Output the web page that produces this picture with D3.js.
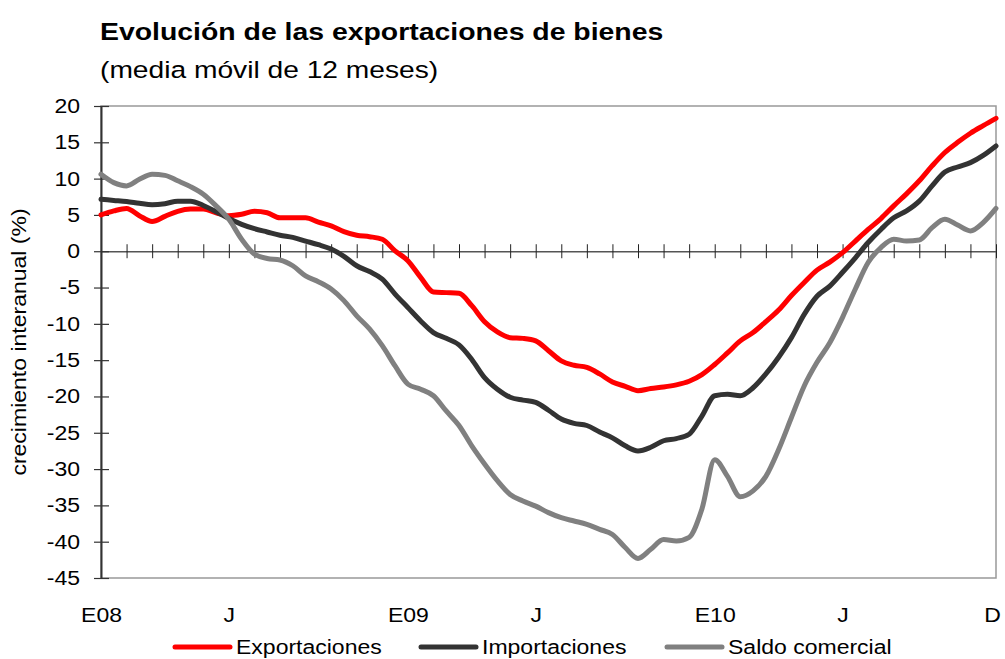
<!DOCTYPE html>
<html>
<head>
<meta charset="utf-8">
<script src="https://cdn.jsdelivr.net/npm/d3@7"></script>
<style>
  body { margin: 0; background: #fff; }
  text { font-family: "Liberation Sans", Arial, sans-serif; }
</style>
</head>
<body>
<svg id="chart"></svg>
<script>
// months since January 2008, two readings per month
const periods = d3.range(71).map(i => i / 2);

const exportaciones = [
  5.0, 5.55, 5.9, 4.9, 4.1, 4.8, 5.5, 5.8, 5.8, 5.3, 4.9, 5.1, 5.5, 5.3, 4.6,
  4.6, 4.6, 4.0, 3.5, 2.7, 2.2, 2.0, 1.65, 0.05, -1.3, -3.6, -5.6, -5.7, -5.8,
  -7.5, -9.7, -11.1, -11.9, -12.0, -12.35, -13.7, -15.1, -15.7, -16.0, -16.9, -18.0, -18.6, -19.2,
  -18.9, -18.7, -18.4, -17.9, -17.0, -15.6, -14.0, -12.35, -11.2, -9.7, -8.1, -6.1, -4.3, -2.6,
  -1.5, -0.2, 1.4, 3.0, 4.5, 6.25, 7.9, 9.7, 11.75, 13.6, 15.0, 16.25, 17.3, 18.3
];
const importaciones = [
  7.15, 7.0, 6.85, 6.6, 6.4, 6.55, 6.9, 6.9, 6.3, 5.45, 4.5, 3.7, 3.1, 2.65, 2.2,
  1.9, 1.4, 0.9, 0.3, -0.7, -2.0, -2.8, -3.85, -5.9, -7.75, -9.6, -11.2, -12.0, -12.9,
  -14.9, -17.4, -19.0, -20.1, -20.5, -20.8, -21.9, -23.1, -23.7, -24.0, -24.9, -25.7, -26.8, -27.5,
  -27.0, -26.1, -25.8, -25.2, -22.7, -19.9, -19.7, -19.9, -18.8, -16.9, -14.6, -11.9, -8.7, -6.2,
  -4.8, -2.9, -0.9, 1.2, 3.0, 4.6, 5.55, 6.9, 9.0, 10.9, 11.6, 12.2, 13.2, 14.5
];
const saldoComercial = [
  10.6, 9.45, 9.0, 9.9, 10.6, 10.45, 9.7, 8.9, 7.85, 6.25, 4.4, 1.65, -0.4, -1.0, -1.2,
  -2.0, -3.4, -4.2, -5.2, -6.8, -8.9, -10.7, -13.0, -15.8, -18.3, -19.0, -19.9, -22.0, -24.0,
  -26.8, -29.3, -31.6, -33.5, -34.4, -35.1, -36.0, -36.7, -37.15, -37.6, -38.3, -39.0, -40.8, -42.3,
  -41.05, -39.7, -39.9, -39.4, -35.5, -28.7, -31.0, -33.8, -33.0, -31.0, -27.3, -22.9, -18.55, -15.3,
  -12.6, -9.1, -5.2, -1.55, 0.5, 1.65, 1.4, 1.55, 3.25, 4.4, 3.6, 2.8, 3.95, 5.9
];

const yTicks = [20, 15, 10, 5, 0, -5, -10, -15, -20, -25, -30, -35, -40, -45];
const monthTicks = d3.range(36);
const xLabelPos = [0, 5, 12, 17, 24, 29, 35];
const xLabels = ["E08", "J", "E09", "J", "E10", "J", "D"];
const seriesNames = ["Exportaciones", "Importaciones", "Saldo comercial"];
const seriesColors = ["#ff0000", "#333333", "#808080"];

const W = 1005, H = 659;
const plot = { left: 101, right: 996, top: 106, bottom: 578 };
const stretchK = 1.15;

const svg = d3.select("#chart").attr("width", W).attr("height", H);

const x = d3.scaleLinear().domain([0, 35]).range([plot.left, plot.right]);
const y = d3.scaleLinear().domain([-45, 20]).range([plot.bottom, plot.top]);

function stretch(sel, k) {
  sel.each(function() {
    const len = this.getComputedTextLength();
    d3.select(this).attr("textLength", len * k).attr("lengthAdjust", "spacingAndGlyphs");
  });
}

// plot area border
svg.append("rect")
  .attr("x", plot.left).attr("y", plot.top)
  .attr("width", plot.right - plot.left).attr("height", plot.bottom - plot.top)
  .attr("fill", "none").attr("stroke", "#999").attr("stroke-width", 1.5);

// zero line with month ticks
const zeroAxis = svg.append("g")
  .attr("transform", `translate(0,${y(0)})`)
  .call(d3.axisBottom(x).tickValues(monthTicks).tickSize(7).tickSizeOuter(0).tickFormat(""));
zeroAxis.select(".domain").attr("stroke", "#555").attr("stroke-width", 1.5);
zeroAxis.selectAll(".tick line").attr("y1", -7).attr("stroke", "#222");

// y axis
const yAxis = svg.append("g")
  .attr("transform", `translate(${plot.left},0)`)
  .call(d3.axisLeft(y).tickValues(yTicks).tickSize(7).tickSizeOuter(0).tickPadding(14).tickFormat(d => String(d)))
  .attr("font-family", null).attr("font-size", 20);
yAxis.select(".domain").attr("stroke", "#333").attr("stroke-width", 2);
yAxis.selectAll(".tick line").attr("x1", 8).attr("stroke", "#333").attr("stroke-width", 1.2);
yAxis.selectAll(".tick text").attr("fill", "#000").call(stretch, stretchK);

// x labels under the plot
const xLab = svg.append("g")
  .attr("transform", `translate(0,${plot.bottom})`)
  .call(d3.axisBottom(x).tickValues(xLabelPos).tickSize(0).tickPadding(30).tickFormat((d, i) => xLabels[i]))
  .attr("font-family", null).attr("font-size", 20);
xLab.select(".domain").remove();
xLab.selectAll(".tick text").attr("fill", "#000").call(stretch, stretchK);
xLab.selectAll(".tick text").filter(d => d === 35).attr("dx", -4);

// series
const line = d3.line()
  .x((d, i) => x(periods[i]))
  .y(d => y(d))
  .curve(d3.curveMonotoneX);

[exportaciones, importaciones, saldoComercial].forEach((s, k) => {
  svg.append("path")
    .datum(s)
    .attr("d", line)
    .attr("fill", "none")
    .attr("stroke", seriesColors[k])
    .attr("stroke-width", 5)
    .attr("stroke-linejoin", "round")
    .attr("stroke-linecap", "round");
});

// y title
svg.append("text")
  .attr("transform", "translate(26,342) rotate(-90)")
  .attr("text-anchor", "middle")
  .attr("font-size", 20)
  .text("crecimiento interanual (%)")
  .call(stretch, stretchK);

// titles
svg.append("text")
  .attr("x", 100).attr("y", 40)
  .attr("font-size", 24.7).attr("font-weight", "bold")
  .text("Evolución de las exportaciones de bienes")
  .call(stretch, stretchK);
svg.append("text")
  .attr("x", 100).attr("y", 78)
  .attr("font-size", 24.5)
  .text("(media móvil de 12 meses)")
  .call(stretch, stretchK);

// legend
const legendX = [175, 421, 667];
const legend = svg.append("g").attr("transform", "translate(0,647)");
seriesNames.forEach((name, k) => {
  legend.append("line")
    .attr("x1", legendX[k]).attr("x2", legendX[k] + 55)
    .attr("stroke", seriesColors[k]).attr("stroke-width", 5).attr("stroke-linecap", "round");
  legend.append("text")
    .attr("x", legendX[k] + 61).attr("y", 7)
    .attr("font-size", 20)
    .text(name)
    .call(stretch, stretchK);
});
</script>
</body>
</html>
